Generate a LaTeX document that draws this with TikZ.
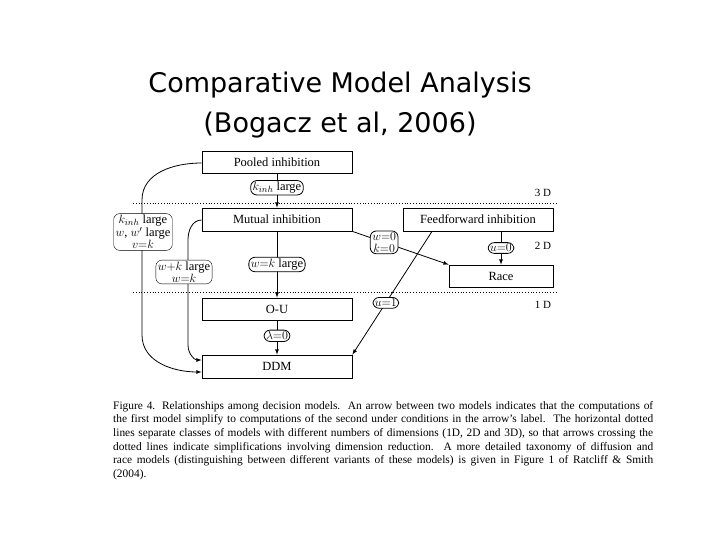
\documentclass[tikz,border=0pt]{standalone}
\usepackage{fontspec}
\setmainfont{Liberation Serif}
\newfontfamily\titlefont{DejaVu Sans}
\begin{document}
\begin{tikzpicture}[x=1pt,y=-1pt,
  box/.style={draw,thick,minimum height=22pt,inner sep=0pt,font=\fontsize{12.5}{13}\selectfont},
  lab/.style={draw,rounded corners=6pt,fill=white,inner xsep=2pt,inner ysep=1.5pt,font=\fontsize{12.5}{12}\selectfont,align=center},
  dim/.style={font=\fontsize{11}{11}\selectfont},
  arr/.style={->,>=latex,thick},
  dots/.style={dotted,thick}]
\useasboundingbox (0,0) rectangle (720,540);
\node[font=\fontsize{27}{40}\titlefont,align=center] (title) at (340,105) {Comparative Model Analysis\\(Bogacz et al, 2006)};
% boxes
\node[box,minimum width=150pt] (pool) at (277,162) {Pooled inhibition};
\node[box,minimum width=150pt,minimum height=23pt] (mut) at (277,219.5) {Mutual inhibition};
\node[box,minimum width=150pt,minimum height=23pt] (ff) at (478,219.5) {Feedforward inhibition};
\node[box,minimum width=104pt] (race) at (501,276) {Race};
\node[box,minimum width=150pt] (ou) at (277,309) {O-U};
\node[box,minimum width=150pt,minimum height=23pt] (ddm) at (277,366.5) {DDM};
% dimension lines
\coordinate (l3a) at (133,203); \coordinate (l3b) at (556,203);
\coordinate (l1a) at (133,292); \coordinate (l1b) at (556,292);
\draw[dots] (l3a) -- (l3b);
\draw[dots] (l1a) -- (l1b);
\node[dim] (d3) at (543,193) {3 D};
\node[dim] (d2) at (543,246) {2 D};
\node[dim] (d1) at (543,305) {1 D};
% arrows
\draw[arr] (pool) -- (mut) node[lab,pos=0.42] (kl) {$k_{inh}$ large};
\draw[arr] (mut) -- (ou) node[lab,midway] (wk) {$w{=}k$ large};
\draw[arr] (ou) -- (ddm) node[lab,pos=0.45] (lam) {$\lambda{=}0$};
\draw[arr] (ff.south-|race.north) -- (race.north) node[lab,midway] (u0) {$u{=}0$};
\draw[arr] (pool.west|-0,163) to[out=180,in=90] (142,200) -- (142,335) to[out=-90,in=180] (ddm.west|-0,372);
\node[lab] (left1) at (143,232) {$k_{inh}$ large\\$w$, $w'$ large\\$v{=}k$};
\draw[arr] (mut.west|-0,220) to[out=180,in=90] (188,240) -- (188,345) to[out=-90,in=180] (ddm.west|-0,360);
\node[lab] (left2) at (184,272) {$w{+}k$ large\\$w{=}k$};
\draw[arr] (mut.south east) -- (race.north west) node[lab,pos=0.33] (w0) {$w{=}0$\\$k{=}0$};
\draw[arr] (ff.south-|432,0) -- (ddm.north east) node[lab,pos=0.58] (u1) {$u{=}1$};
% caption
\node[anchor=north west,inner sep=0pt,text width=540pt,align=justify,font=\fontsize{11.4}{13.6}\selectfont] (cap) at (113,401) {Figure 4. Relationships among decision models.\ \ An arrow between two models indicates that the computations of\linebreak the first model simplify to computations of the second under conditions in the arrow's label.\ \ The horizontal dotted\linebreak lines separate classes of models with different numbers of dimensions (1D, 2D and 3D), so that arrows crossing the\linebreak dotted lines indicate simplifications involving dimension reduction.\ \ A more detailed taxonomy of diffusion and\linebreak race models (distinguishing between different variants of these models) is given in Figure 1 of Ratcliff \& Smith\linebreak (2004).};
\end{tikzpicture}
\end{document}
